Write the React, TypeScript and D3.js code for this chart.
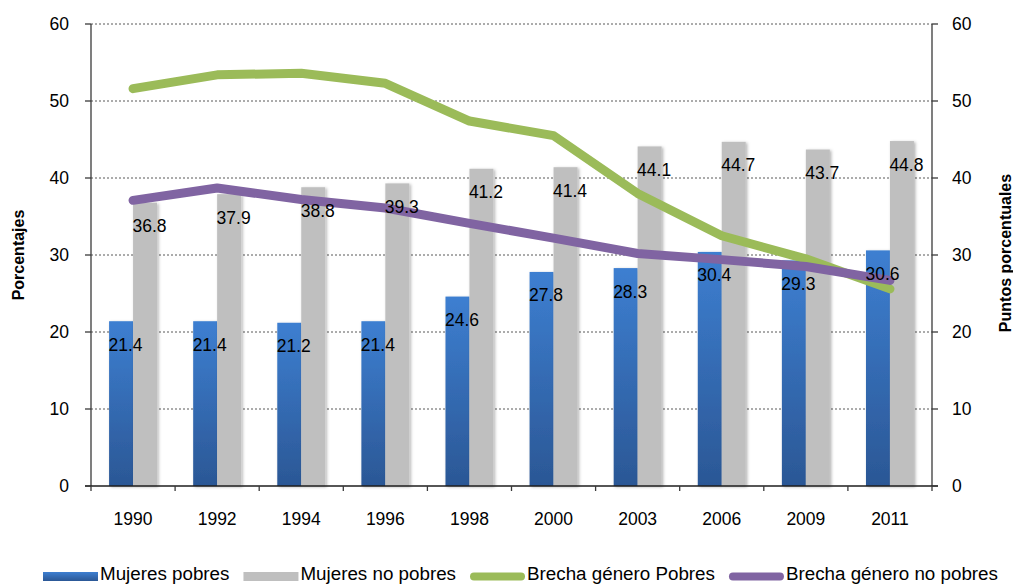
import React, { useEffect, useRef } from "react";
import * as d3 from "d3";

const years = ["1990", "1992", "1994", "1996", "1998", "2000", "2003", "2006", "2009", "2011"];
const mujeresPobres = [21.4, 21.4, 21.2, 21.4, 24.6, 27.8, 28.3, 30.4, 29.3, 30.6];
const mujeresNoPobres = [36.8, 37.9, 38.8, 39.3, 41.2, 41.4, 44.1, 44.7, 43.7, 44.8];
const brechaPobres = [51.6, 53.4, 53.6, 52.3, 47.4, 45.5, 38.0, 32.5, 29.5, 25.6];
const brechaNoPobres = [37.1, 38.7, 37.2, 36.1, 34.1, 32.2, 30.2, 29.4, 28.5, 26.7];
const yTicks = [0, 10, 20, 30, 40, 50, 60];
const legendItems = [
  { label: "Mujeres pobres", kind: "bar", color: "url(#blueGradH)" },
  { label: "Mujeres no pobres", kind: "bar", color: "#bfbfbf" },
  { label: "Brecha género Pobres", kind: "line", color: "#9bbb59" },
  { label: "Brecha género no pobres", kind: "line", color: "#8064a2" },
];

const W = 1013;
const H = 585;
const FONT = "'Liberation Sans', Arial, sans-serif";

export default function App() {
  const ref = useRef<SVGSVGElement>(null);

  useEffect(() => {
    const svg = d3.select(ref.current);
    svg.selectAll("*").remove();

    const left = 91, right = 932, top = 24, bottom = 486;
    const x = d3.scaleBand().domain(years).range([left, right]).paddingInner(0).paddingOuter(0);
    const y = d3.scaleLinear().domain([0, 60]).range([bottom, top]);
    const y2 = d3.scaleLinear().domain([0, 60]).range([bottom, top]);
    const barW = x.bandwidth() * 0.285;

    const defs = svg.append("defs");
    const g = defs.append("linearGradient").attr("id", "blueGrad").attr("x1", 0).attr("y1", 0).attr("x2", 0).attr("y2", 1);
    g.append("stop").attr("offset", "0%").attr("stop-color", "#3d7fd1");
    g.append("stop").attr("offset", "100%").attr("stop-color", "#2b5795");
    const lg = defs.append("linearGradient").attr("id", "blueGradH").attr("x1", 0).attr("y1", 0).attr("x2", 0).attr("y2", 1);
    lg.append("stop").attr("offset", "0%").attr("stop-color", "#3d7fd1");
    lg.append("stop").attr("offset", "100%").attr("stop-color", "#2b5795");
    const f = defs.append("filter").attr("id", "shadow").attr("x", "-30%").attr("y", "-10%").attr("width", "160%").attr("height", "120%");
    f.append("feDropShadow").attr("dx", 1.5).attr("dy", 1).attr("stdDeviation", 1.6).attr("flood-color", "#000").attr("flood-opacity", 0.3);

    // gridlines
    svg.append("g").selectAll("line").data(yTicks.filter((t) => t > 0)).join("line")
      .attr("x1", left).attr("x2", right)
      .attr("y1", (d) => y(d)).attr("y2", (d) => y(d))
      .attr("stroke", "#595959").attr("stroke-width", 1).attr("stroke-dasharray", "2,2");

    // bars
    const bars = svg.append("g");
    bars.selectAll("rect.b").data(mujeresPobres).join("rect")
      .attr("x", (_, i) => x(years[i])! + x.bandwidth() / 2 - barW)
      .attr("y", (d) => y(d)).attr("width", barW).attr("height", (d) => bottom - y(d))
      .attr("fill", "url(#blueGrad)").attr("filter", "url(#shadow)");
    bars.selectAll("rect.g").data(mujeresNoPobres).join("rect")
      .attr("x", (_, i) => x(years[i])! + x.bandwidth() / 2)
      .attr("y", (d) => y(d)).attr("width", barW).attr("height", (d) => bottom - y(d))
      .attr("fill", "#bfbfbf").attr("filter", "url(#shadow)");

    // axes
    const axG = svg.append("g").attr("stroke", "#3a3a3a").attr("stroke-width", 1.3);
    axG.append("line").attr("x1", left).attr("x2", left).attr("y1", top).attr("y2", bottom);
    axG.append("line").attr("x1", right).attr("x2", right).attr("y1", top).attr("y2", bottom);
    axG.append("line").attr("x1", left - 6).attr("x2", right + 6).attr("y1", bottom).attr("y2", bottom).attr("stroke", "#1e1e1e");
    yTicks.forEach((t) => {
      axG.append("line").attr("x1", left - 6).attr("x2", left).attr("y1", y(t)).attr("y2", y(t));
      axG.append("line").attr("x1", right).attr("x2", right + 6).attr("y1", y2(t)).attr("y2", y2(t));
    });
    years.forEach((yr) => {
      axG.append("line").attr("x1", x(yr)!).attr("x2", x(yr)!).attr("y1", bottom).attr("y2", bottom + 5);
    });
    axG.append("line").attr("x1", right).attr("x2", right).attr("y1", bottom).attr("y2", bottom + 5);

    const txt = svg.append("g").attr("font-family", FONT).attr("font-size", 17.5).attr("fill", "#000");
    yTicks.forEach((t) => {
      txt.append("text").attr("x", 69).attr("y", y(t)).attr("text-anchor", "end").attr("dominant-baseline", "central").text(t);
      txt.append("text").attr("x", 952).attr("y", y2(t)).attr("text-anchor", "start").attr("dominant-baseline", "central").text(t);
    });
    years.forEach((yr) => {
      txt.append("text").attr("x", x(yr)! + x.bandwidth() / 2).attr("y", 519).attr("text-anchor", "middle").attr("dominant-baseline", "central").text(yr);
    });

    // lines
    const line = d3.line<number>().x((_, i) => x(years[i])! + x.bandwidth() / 2).y((d) => y2(d));
    svg.append("path").datum(brechaPobres).attr("d", line).attr("fill", "none").attr("stroke", "#9bbb59")
      .attr("stroke-width", 9).attr("stroke-linecap", "round").attr("stroke-linejoin", "round");
    svg.append("path").datum(brechaNoPobres).attr("d", line).attr("fill", "none").attr("stroke", "#8064a2")
      .attr("stroke-width", 9).attr("stroke-linecap", "round").attr("stroke-linejoin", "round");

    // data labels
    const lab = svg.append("g").attr("font-family", FONT).attr("font-size", 17.5).attr("fill", "#000");
    mujeresPobres.forEach((v, i) => {
      lab.append("text").attr("x", x(years[i])! + x.bandwidth() / 2 - barW / 2 + 4.5).attr("y", y(v) + 23.5)
        .attr("text-anchor", "middle").attr("dominant-baseline", "central").text(v.toFixed(1));
    });
    mujeresNoPobres.forEach((v, i) => {
      lab.append("text").attr("x", x(years[i])! + x.bandwidth() / 2 + barW / 2 + 4.5).attr("y", y(v) + 23.5)
        .attr("text-anchor", "middle").attr("dominant-baseline", "central").text(v.toFixed(1));
    });

    // axis titles
    svg.append("text").attr("transform", `translate(18,${(top + bottom) / 2}) rotate(-90)`)
      .attr("font-family", FONT).attr("font-size", 16).attr("font-weight", "bold").attr("text-anchor", "middle")
      .attr("dominant-baseline", "central").text("Porcentajes");
    svg.append("text").attr("transform", `translate(1005,${(top + bottom) / 2 - 2}) rotate(-90)`)
      .attr("font-family", FONT).attr("font-size", 16).attr("font-weight", "bold").attr("text-anchor", "middle")
      .attr("dominant-baseline", "central").text("Puntos porcentuales");

    // legend
    const leg = svg.append("g").attr("font-family", FONT).attr("font-size", 18.8);
    let cx = 43;
    const ly = 576.5;
    legendItems.forEach((it) => {
      if (it.kind === "bar") {
        leg.append("rect").attr("x", cx).attr("y", ly - 4.5).attr("width", 55).attr("height", 9).attr("fill", it.color);
      } else {
        leg.append("line").attr("x1", cx + 4).attr("x2", cx + 51).attr("y1", ly).attr("y2", ly)
          .attr("stroke", it.color).attr("stroke-width", 8).attr("stroke-linecap", "round");
      }
      const t = leg.append("text").attr("x", cx + 57).attr("y", 580.3).attr("fill", "#000").text(it.label);
      const w = (t.node() as SVGTextElement).getComputedTextLength();
      cx = cx + 57 + w + 14;
    });
  }, []);

  return (
    <svg ref={ref} width={W} height={H} style={{ position: "absolute", left: 0, top: 0, background: "#fff" }} />
  );
}
